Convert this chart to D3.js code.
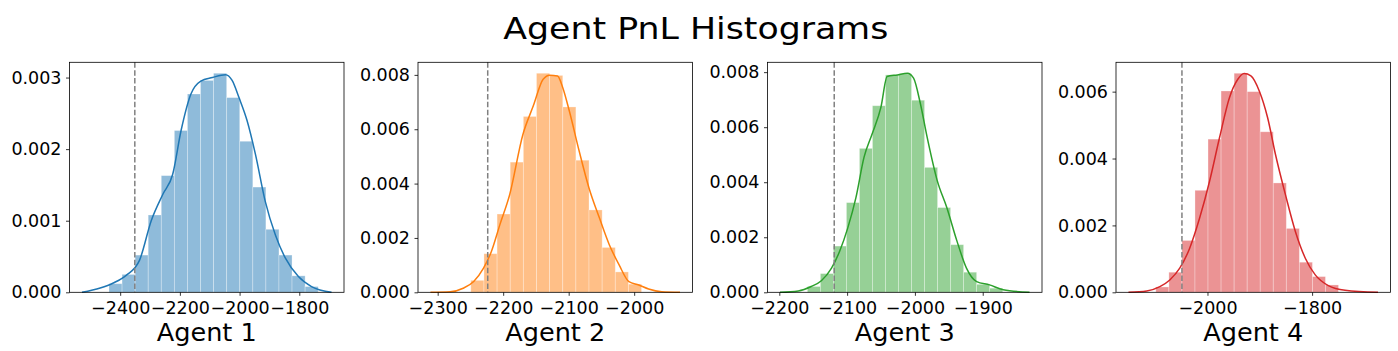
<!DOCTYPE html>
<html lang="en">
<head>
<meta charset="UTF-8" />
<title>Agent PnL Histograms</title>
<script src="https://d3js.org/d3.v7.min.js"></script>
<style>
  body { margin: 0; background: #fff; font-family: "DejaVu Sans", sans-serif; }
  svg { display: block; }
  .tick text { font-family: "DejaVu Sans", sans-serif; font-size: 17.5px; fill: #000; }
  .tick line { stroke: #000; stroke-width: 0.8; }
  .domain { display: none; }
</style>
</head>
<body>
<div id="chart"></div>
<script>
// ---- data ----
const agents = ["Agent 1", "Agent 2", "Agent 3", "Agent 4"];
const lineColors = ["#1f77b4", "#ff7f0e", "#2ca02c", "#d62728"];

// histogram: first bin edge, bin width, density per bin
const binStart = [-2437.5, -2249.4, -2158.6, -2098.7];
const binWidth = [43.8, 20.05, 19.2, 24.94];
const hist1 = [0.00012, 0.00025, 0.00052, 0.00108, 0.00163, 0.00226, 0.00277, 0.00296,
               0.00306, 0.00272, 0.00211, 0.00147, 0.00088, 0.00052, 0.00023, 0.00008];
const hist2 = [0.00044, 0.00142, 0.00288, 0.00479, 0.00647, 0.00806, 0.00798, 0.00682,
               0.00486, 0.00303, 0.00165, 0.00075, 0.0003];
const hist3 = [0.00021, 0.00068, 0.00168, 0.00326, 0.00523, 0.00678, 0.0079, 0.00794,
               0.00698, 0.00454, 0.00308, 0.00173, 0.00073, 0.00029, 0.00015];
const hist4 = [0.00016, 0.0006, 0.00155, 0.00305, 0.00458, 0.00602, 0.00655, 0.006,
               0.0048, 0.00327, 0.00191, 0.0009, 0.00047, 0.00022];

// kde curves: [pnl, density]
const kde1 = [[-2528, 0], [-2467, 0.00006], [-2423, 0.00013], [-2379, 0.00024], [-2335, 0.00045],
  [-2296, 0.001], [-2257, 0.00137], [-2224, 0.00165], [-2196, 0.00226], [-2163, 0.00277],
  [-2130, 0.00295], [-2091, 0.003], [-2047, 0.00304], [-2025, 0.00296], [-2002, 0.00272],
  [-1975, 0.0024], [-1947, 0.00193], [-1914, 0.00127], [-1880, 0.0008], [-1847, 0.00048],
  [-1803, 0.00022], [-1759, 0.00008], [-1692, 0]];
const kde2 = [[-2311, 0], [-2281, 0.00002], [-2261, 0.00015], [-2245, 0.0004], [-2230, 0.00089],
  [-2218, 0.0015], [-2205, 0.00249], [-2190, 0.0036], [-2170, 0.0058], [-2154, 0.00686],
  [-2139, 0.00784], [-2129, 0.00799], [-2117, 0.00796], [-2109, 0.00753], [-2099, 0.00667],
  [-2084, 0.0052], [-2069, 0.00384], [-2053, 0.00273], [-2038, 0.00175], [-2023, 0.00101],
  [-2008, 0.00039], [-1993, 0.00027], [-1978, 0.00012], [-1958, 0.00002], [-1930, 0]];
const kde3 = [[-2199, 0], [-2172, 0.00005], [-2153, 0.00021], [-2138, 0.00042], [-2123, 0.00088],
  [-2111, 0.00149], [-2099, 0.00234], [-2087, 0.00344], [-2075, 0.00491], [-2063, 0.00576],
  [-2050, 0.00674], [-2041, 0.00784], [-2026, 0.0079], [-2011, 0.00796], [-2002, 0.00778],
  [-1992, 0.00686], [-1982, 0.00564], [-1967, 0.00405], [-1953, 0.00308], [-1938, 0.00186],
  [-1924, 0.00088], [-1909, 0.00039], [-1890, 0.00027], [-1870, 0.00009], [-1831, 0]];
const kde4 = [[-2151, 0], [-2116, 0.00004], [-2091, 0.00017], [-2072, 0.00037], [-2053, 0.00072],
  [-2034, 0.00132], [-2015, 0.00222], [-1996, 0.00332], [-1977, 0.00462], [-1958, 0.00582],
  [-1942, 0.00637], [-1930, 0.00654], [-1917, 0.00647], [-1901, 0.00602], [-1885, 0.00522],
  [-1870, 0.00412], [-1851, 0.00292], [-1832, 0.00182], [-1813, 0.00102], [-1794, 0.00052],
  [-1769, 0.0002], [-1737, 0.00006], [-1674, 0]];

// dashed reference lines
const vlines = [-2351, -2223.6, -2119, -2048.8];

// tick labels
const xTicks1 = [-2400, -2200, -2000, -1800];
const xTicks2 = [-2300, -2200, -2100, -2000];
const xTicks3 = [-2200, -2100, -2000, -1900];
const xTicks4 = [-2000, -1800];
const yTicks1 = [0, 0.001, 0.002, 0.003];
const yTicks2 = [0, 0.002, 0.004, 0.006, 0.008];
const yTicks3 = [0, 0.002, 0.004, 0.006, 0.008];
const yTicks4 = [0, 0.002, 0.004, 0.006];

const hists = [hist1, hist2, hist3, hist4];
const kdes = [kde1, kde2, kde3, kde4];
const xTicks = [xTicks1, xTicks2, xTicks3, xTicks4];
const yTicks = [yTicks1, yTicks2, yTicks3, yTicks4];

// ---- layout ----
const W = 1398, H = 351;
const lefts = [69.5, 418, 767.5, 1116];
const pw = 274.5, plotTop = 62.3, plotBottom = 292.3;

const svg = d3.select("#chart").append("svg")
  .attr("width", W).attr("height", H);

svg.append("text")
  .attr("x", 695.8).attr("y", 39.3)
  .attr("text-anchor", "middle")
  .attr("textLength", 385)
  .attr("lengthAdjust", "spacingAndGlyphs")
  .style("font-size", "31px")
  .text("Agent PnL Histograms");

const fmtMinus = d => String(d).replace("-", "\u2212");

agents.forEach((name, i) => {
  const g = svg.append("g");
  const kde = kdes[i];
  const ext = d3.extent(kde, d => d[0]);
  const pad = (ext[1] - ext[0]) * 0.05;
  const x = d3.scaleLinear().domain([ext[0] - pad, ext[1] + pad])
    .range([lefts[i], lefts[i] + pw]);
  const ymax = Math.max(d3.max(hists[i]), d3.max(kde, d => d[1])) * 1.05;
  const y = d3.scaleLinear().domain([0, ymax]).range([plotBottom, plotTop]);

  const bins = hists[i].map((v, k) => ({
    x0: binStart[i] + k * binWidth[i],
    x1: binStart[i] + (k + 1) * binWidth[i],
    v
  }));

  const fill = d3.interpolateRgb("#ffffff", lineColors[i])(0.5);

  g.selectAll("rect.bar").data(bins).enter().append("rect")
    .attr("class", "bar")
    .attr("x", d => x(d.x0))
    .attr("width", d => x(d.x1) - x(d.x0))
    .attr("y", d => y(d.v))
    .attr("height", d => y(0) - y(d.v))
    .attr("fill", fill)
    .attr("stroke", "#ffffff")
    .attr("stroke-opacity", 0.35)
    .attr("stroke-width", 0.8);

  const line = d3.line().x(d => x(d[0])).y(d => y(d[1])).curve(d3.curveMonotoneX);
  g.append("path").datum(kde)
    .attr("d", line)
    .attr("fill", "none")
    .attr("stroke", lineColors[i])
    .attr("stroke-width", 1.5);

  g.append("line")
    .attr("x1", x(vlines[i])).attr("x2", x(vlines[i]))
    .attr("y1", plotTop).attr("y2", plotBottom)
    .attr("stroke", "#808080")
    .attr("stroke-width", 1.5)
    .attr("stroke-dasharray", "5.5,2.4");

  // frame
  g.append("rect")
    .attr("x", lefts[i]).attr("y", plotTop)
    .attr("width", pw).attr("height", plotBottom - plotTop)
    .attr("fill", "none").attr("stroke", "#000").attr("stroke-width", 0.8);

  g.append("g").attr("transform", `translate(0,${plotBottom})`)
    .call(d3.axisBottom(x).tickValues(xTicks[i]).tickSize(3.5).tickPadding(6)
      .tickFormat(fmtMinus));

  g.append("g").attr("transform", `translate(${lefts[i]},0)`)
    .call(d3.axisLeft(y).tickValues(yTicks[i]).tickSize(3.5).tickPadding(4.5)
      .tickFormat(d3.format(".3f")));

  g.append("text")
    .attr("x", lefts[i] + pw / 2).attr("y", 341)
    .attr("text-anchor", "middle")
    .attr("textLength", 100)
    .attr("lengthAdjust", "spacingAndGlyphs")
    .style("font-size", "24px")
    .text(name);
});
</script>
</body>
</html>
